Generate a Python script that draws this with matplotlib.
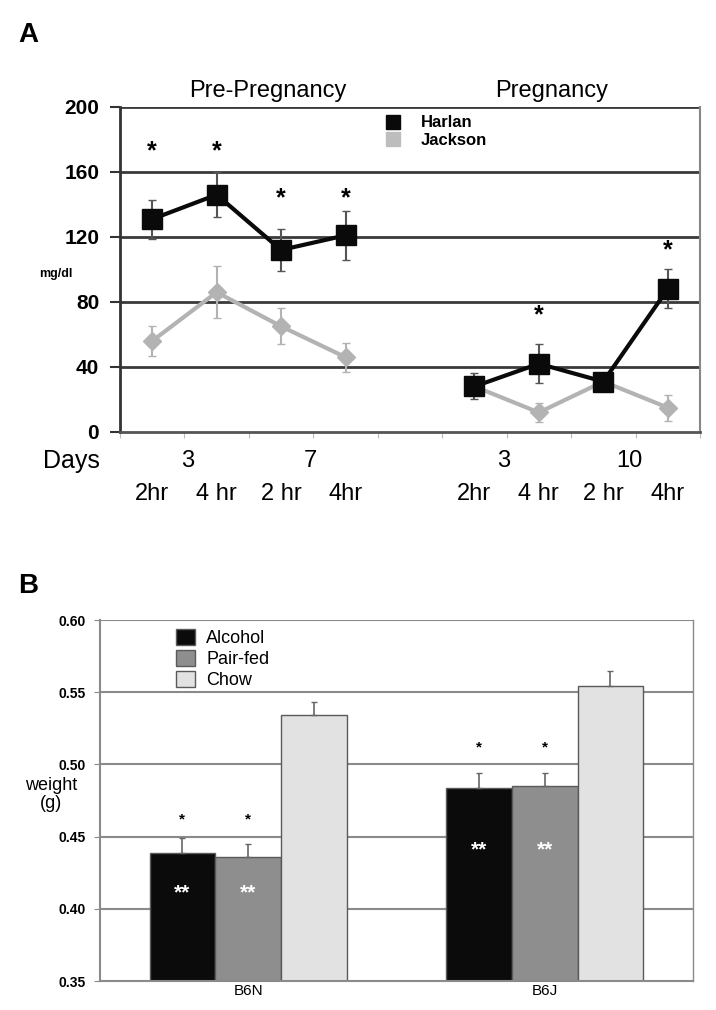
import numpy as np
import matplotlib
matplotlib.use("Agg")
import matplotlib.pyplot as plt
from matplotlib.lines import Line2D

plt.rcParams['font.family'] = ['Liberation Sans', 'DejaVu Sans']

# ---- Panel A data (mg/dl) ----
pos_a = [1, 2, 3, 4, 6, 7, 8, 9]
time_labels = ['2hr', '4 hr', '2 hr', '4hr', '2hr', '4 hr', '2 hr', '4hr']
day_labels = ['3', '7', '3', '10']
harlan = [131, 146, 112, 121, 28, 42, 31, 88]
harlan_err = [12, 14, 13, 15, 8, 12, 5, 12]
jackson = [56, 86, 65, 46, 28, 12, 31, 15]
jackson_err = [9.5, 16, 11, 9, 5, 6, 5, 8]
star_pos = [1, 2, 3, 4, 7, 9]
star_y = [173, 173, 144, 144, 72, 112]

# ---- Panel B data (g) ----
strains = ['B6N', 'B6J']
groups = ['Alcohol', 'Pair-fed', 'Chow']
weights = {'Alcohol': [0.439, 0.484], 'Pair-fed': [0.436, 0.485], 'Chow': [0.534, 0.554]}
weights_err = {'Alcohol': [0.010, 0.010], 'Pair-fed': [0.009, 0.009], 'Chow': [0.009, 0.011]}
bar_colors = {'Alcohol': '#0b0b0b', 'Pair-fed': '#8e8e8e', 'Chow': '#e2e2e2'}
star_b_y = [0.462, 0.512]
dstar_b_y = [0.411, 0.441]

fig = plt.figure(figsize=(7.16, 10.1), dpi=100)

# ================= Panel A =================
ax = fig.add_axes([0.1676, 0.5723, 0.810, 0.3218])
ax.set_xlim(0.5, 9.5)
ax.set_ylim(0, 200)
for v in [40, 80, 120, 160, 200]:
    ax.axhline(v, color='#3a3a3a', lw=2, zorder=1)

seg = [slice(0, 4), slice(4, 8)]
px = np.array(pos_a)
for s in seg:
    ax.errorbar(px[s], np.array(jackson)[s], yerr=np.array(jackson_err)[s], color='#b3b3b3',
                lw=3, marker='D', ms=9, mec='#b3b3b3', elinewidth=1.5, capsize=3, zorder=3)
for s in seg:
    ax.errorbar(px[s], np.array(harlan)[s], yerr=np.array(harlan_err)[s], color='#0a0a0a',
                lw=3, marker='s', ms=14, elinewidth=1.5, ecolor='#555555', capsize=3, zorder=4)

for x, y in zip(star_pos, star_y):
    ax.text(x, y, '*', ha='center', va='center', fontsize=18, fontweight='bold')

ax.set_yticks([0, 40, 80, 120, 160, 200])
ax.set_yticklabels(['0', '40', '80', '120', '160', '200'], fontsize=15, fontweight='bold')
ax.tick_params(axis='y', length=7, width=1.5, color='#333333', pad=8)
ax.set_xticks(np.arange(0.5, 10, 1))
ax.set_xticklabels([])
ax.tick_params(axis='x', length=4, color='#bbbbbb')
ax.spines['left'].set_color('#333333')
ax.spines['left'].set_linewidth(2)
ax.spines['bottom'].set_color('#555555')
ax.spines['bottom'].set_linewidth(2)
ax.spines['right'].set_color('#888888')
ax.spines['right'].set_linewidth(1.5)
ax.spines['top'].set_visible(False)

# day and time labels below axis
day_x = [(pos_a[0] + pos_a[1]) / 2 + 0.05, (pos_a[2] + pos_a[3]) / 2 - 0.05,
         (pos_a[4] + pos_a[5]) / 2 - 0.05, (pos_a[6] + pos_a[7]) / 2 - 0.1]
for x, t in zip(day_x, day_labels):
    ax.text(x, -18, t, ha='center', va='center', fontsize=17)
for x, t in zip(pos_a, time_labels):
    ax.text(x, -38, t, ha='center', va='center', fontsize=17)
ax.text(-0.26, -18, 'Days', ha='center', va='center', fontsize=18)
ax.text(-0.5, 97, 'mg/dl', ha='center', va='center', fontsize=9, fontweight='bold')
ax.text(2.8, 210, 'Pre-Pregnancy', ha='center', va='center', fontsize=17)
ax.text(7.2, 210, 'Pregnancy', ha='center', va='center', fontsize=17)

handles = [Line2D([], [], ls='', marker='s', ms=10, color='#0a0a0a'),
           Line2D([], [], ls='', marker='s', ms=10, color='#bdbdbd')]
leg = ax.legend(handles, ['Harlan', 'Jackson'], loc='upper left', bbox_to_anchor=(0.43, 1.02),
                frameon=False, handlelength=1, handletextpad=1.2, labelspacing=0.15,
                prop={'size': 12, 'weight': 'bold'})
leg.set_zorder(5)

fig.text(0.025, 0.965, 'A', fontsize=20, fontweight='bold', va='center')

# ================= Panel B =================
bx = fig.add_axes([0.1397, 0.0287, 0.828, 0.3574])
bx.set_xlim(-0.5, 1.5)
bx.set_ylim(0.35, 0.60)
for v in [0.40, 0.45, 0.50, 0.55, 0.60]:
    bx.axhline(v, color='#8a8a8a', lw=1.5, zorder=0)

w = 0.222
xs = np.arange(len(strains))
for i, g in enumerate(groups):
    bx.bar(xs + (i - 1) * w, weights[g], w, color=bar_colors[g], edgecolor='#5a5a5a',
           lw=1, zorder=2, label=g)
    bx.errorbar(xs + (i - 1) * w, weights[g], yerr=[np.zeros(2), weights_err[g]], fmt='none',
                ecolor='#666666', elinewidth=1.2, capsize=2, zorder=3)

for i, g in enumerate(groups[:2]):
    for j in range(len(strains)):
        x = xs[j] + (i - 1) * w
        bx.text(x, star_b_y[j], '*', ha='center', va='center', fontsize=11, fontweight='bold')
        bx.text(x, dstar_b_y[j], '**', ha='center', va='center', fontsize=15,
                fontweight='bold', color='white')

bx.set_yticks([0.35, 0.40, 0.45, 0.50, 0.55, 0.60])
bx.set_yticklabels(['0.35', '0.40', '0.45', '0.50', '0.55', '0.60'], fontsize=10, fontweight='bold')
bx.tick_params(axis='y', length=4, color='#888888', pad=6)
bx.set_xticks(xs)
bx.set_xticklabels(strains, fontsize=11)
bx.tick_params(axis='x', length=0, pad=2)
for sp in ['left', 'bottom', 'right']:
    bx.spines[sp].set_color('#8a8a8a')
    bx.spines[sp].set_linewidth(1.5)
bx.spines['right'].set_linewidth(1)
bx.spines['top'].set_visible(False)
bx.text(-0.665, 0.479, 'weight\n(g)', ha='center', va='center', fontsize=13, linespacing=1.1)

bx.legend(loc='upper left', bbox_to_anchor=(0.1, 1.02), frameon=False, handlelength=1.1,
          handleheight=1.0, handletextpad=0.6, labelspacing=0.15, fontsize=13)

fig.text(0.025, 0.42, 'B', fontsize=20, fontweight='bold', va='center')

fig.savefig('out.png', dpi=100, facecolor='white')
